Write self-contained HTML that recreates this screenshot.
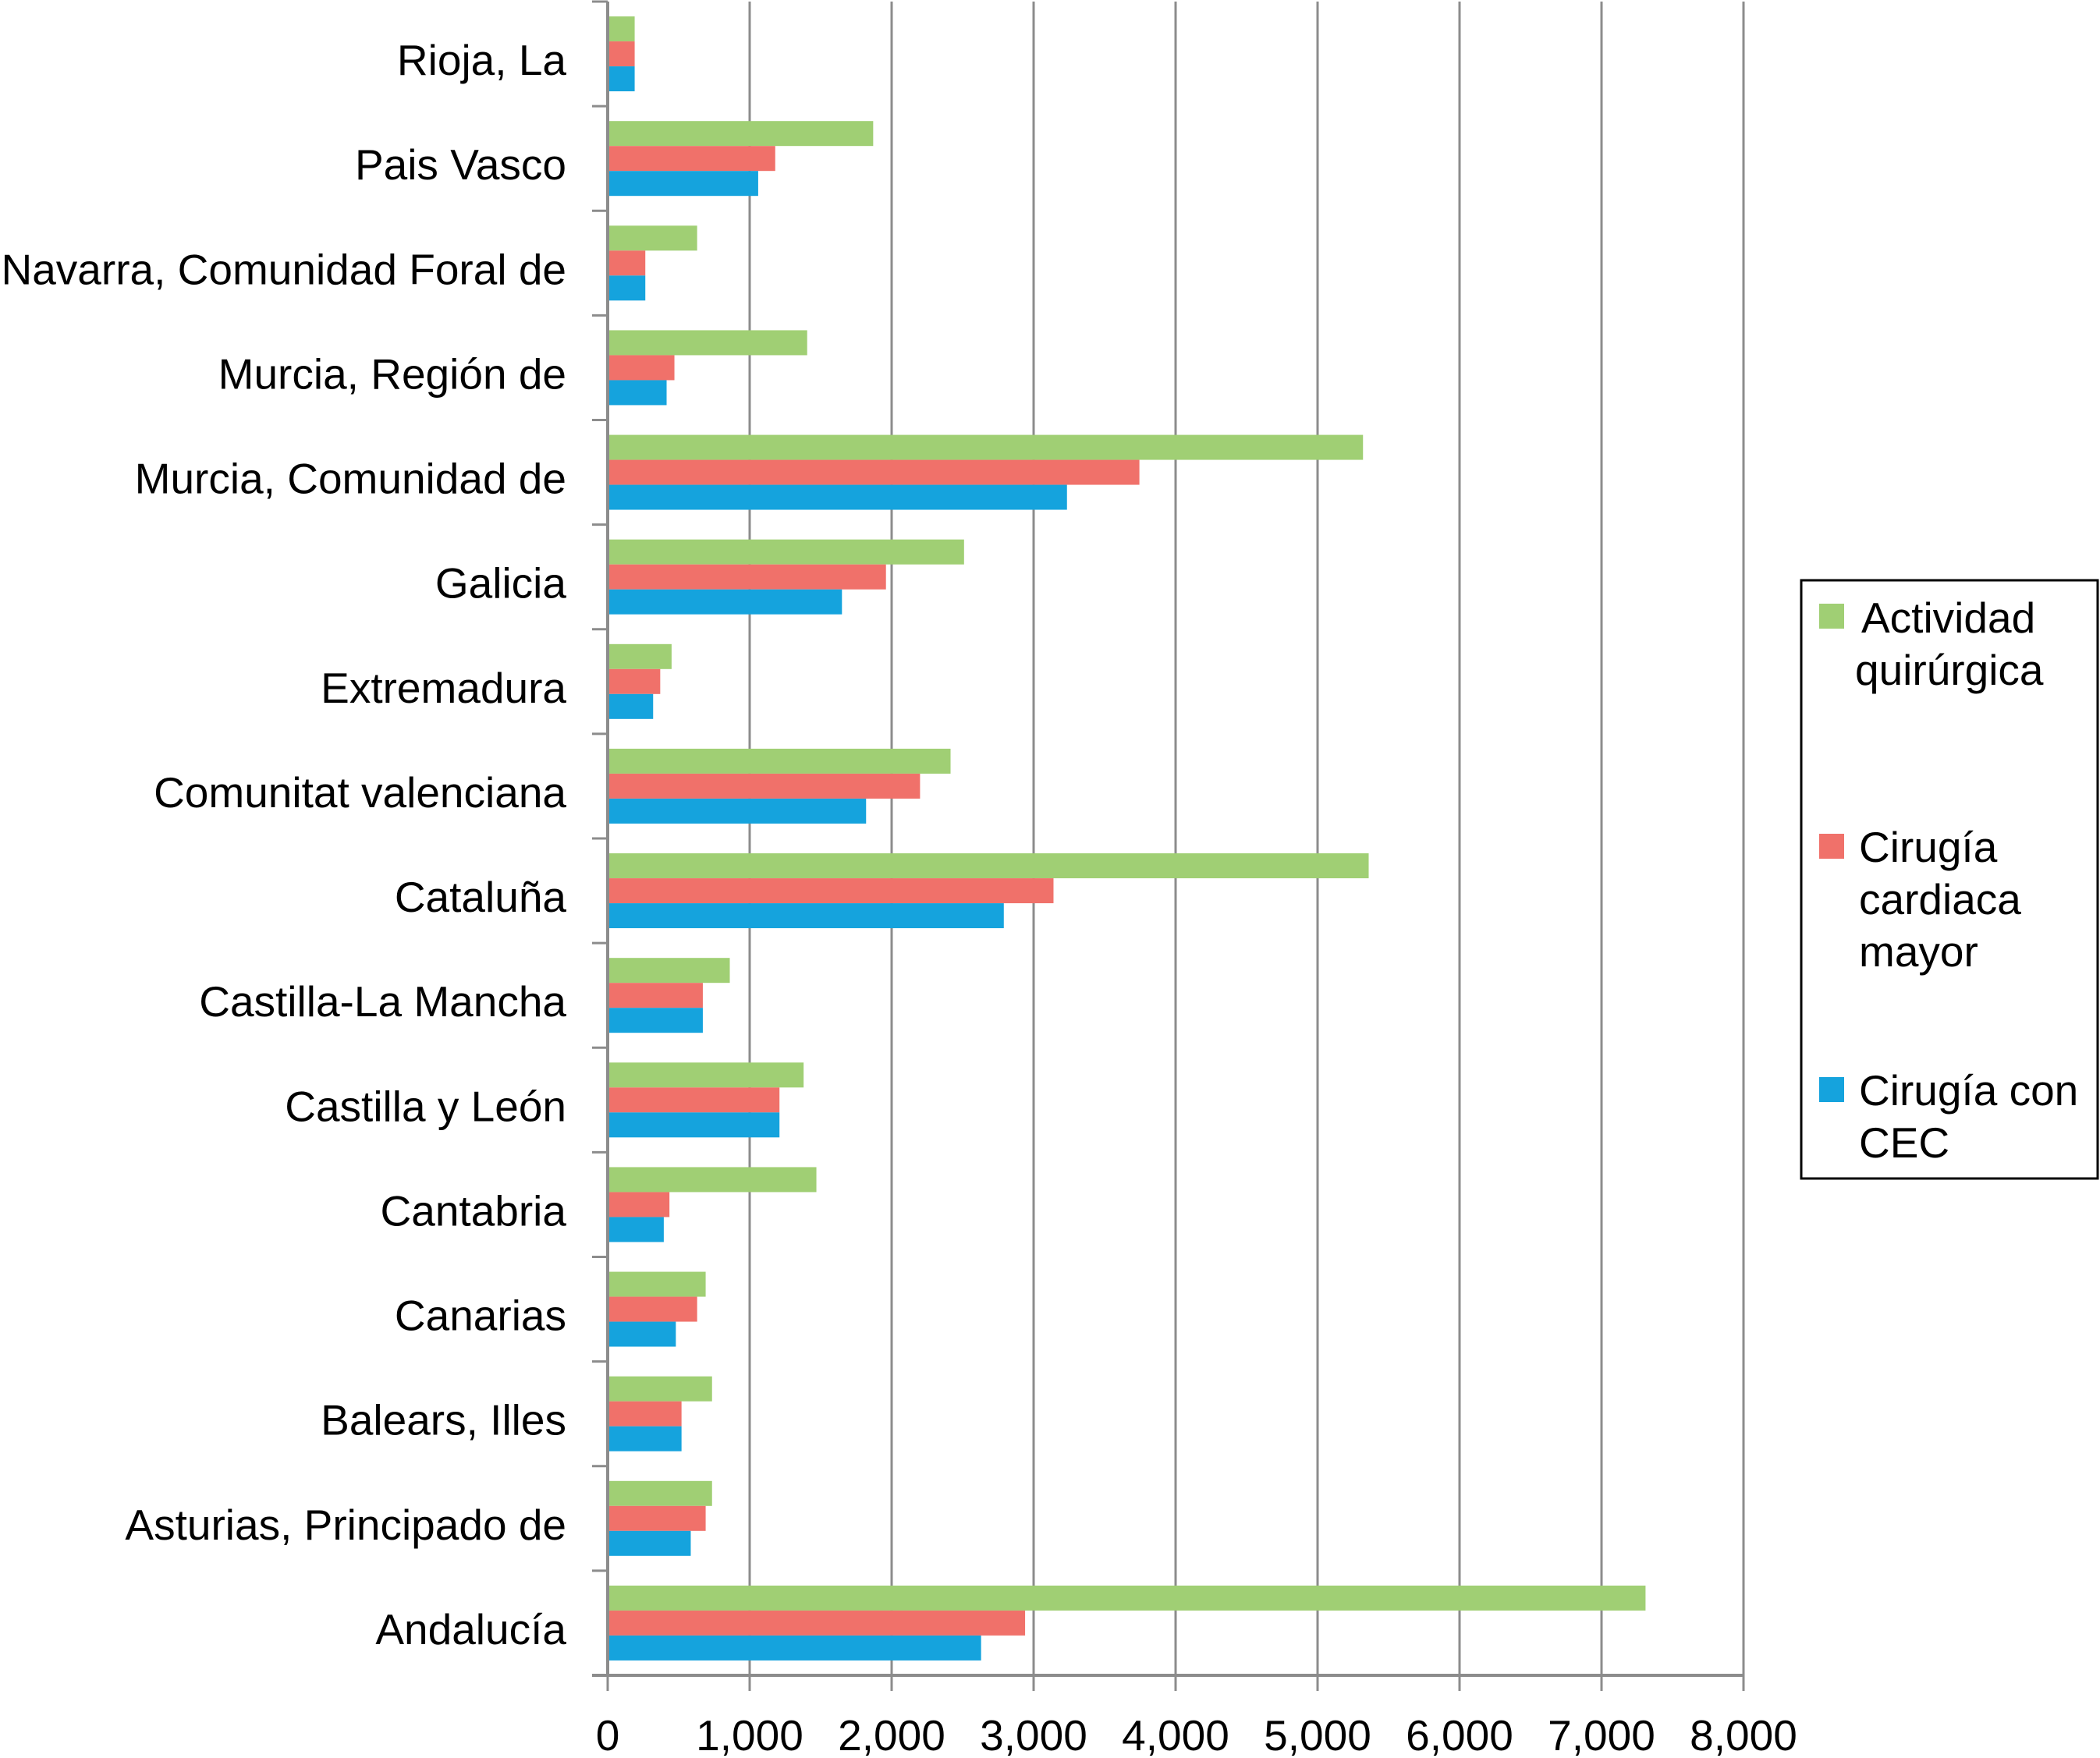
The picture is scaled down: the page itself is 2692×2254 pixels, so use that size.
<!DOCTYPE html>
<html><head><meta charset="utf-8"><style>
body{margin:0;background:#fff;}
svg{display:block;font-family:"Liberation Sans",Arial,sans-serif;}
</style></head><body>
<svg id="chart" width="2692" height="2254" viewBox="0 0 2692 2254" xmlns="http://www.w3.org/2000/svg">
<g id="grid"></g>
<g id="bars"></g>
<g id="axes"></g>
<g id="legend">
<rect x="2309" y="744" width="380" height="767" fill="#fff" stroke="#000" stroke-width="3"/>
<rect x="2332" y="774" width="32" height="32" fill="#a0cf74"/>
<text font-size="55" fill="#000"><tspan x="2386" y="811">Actividad</tspan><tspan x="2378" y="878">quirúrgica</tspan></text>
<rect x="2332" y="1069" width="32" height="32" fill="#f0716a"/>
<text font-size="55" fill="#000"><tspan x="2383" y="1105">Cirugía</tspan><tspan x="2383" y="1172">cardiaca</tspan><tspan x="2383" y="1239">mayor</tspan></text>
<rect x="2332" y="1381" width="32" height="32" fill="#15a3dd"/>
<text font-size="55" fill="#000"><tspan x="2383" y="1417">Cirugía con</tspan><tspan x="2383" y="1484">CEC</tspan></text>
</g>
</svg>
<script>
const categories = ["Rioja, La","Pais Vasco","Navarra, Comunidad Foral de","Murcia, Región de","Murcia, Comunidad de","Galicia","Extremadura","Comunitat valenciana","Cataluña","Castilla-La Mancha","Castilla y León","Cantabria","Canarias","Balears, Illes","Asturias, Principado de","Andalucía"];
const actividad = [190,1870,630,1405,5320,2510,450,2415,5360,860,1380,1470,690,735,735,7310];
const cardiaca = [190,1180,265,470,3745,1960,370,2200,3140,670,1210,435,630,520,690,2940];
const cec = [190,1060,265,415,3235,1650,320,1820,2790,670,1210,395,480,520,585,2630];
const xTicks = [0,1000,2000,3000,4000,5000,6000,7000,8000];
const xTickLabels = ["0","1,000","2,000","3,000","4,000","5,000","6,000","7,000","8,000"];

const NS="http://www.w3.org/2000/svg";
const X0=779, X1=2235, YT=2, YB=2148, XMAX=8000;
const xs=v=>X0+(v/XMAX)*(X1-X0);
const band=(YB-YT)/categories.length;
const yb=i=>YT+i*band;
function mk(tag,attrs,parent){const e=document.createElementNS(NS,tag);for(const k in attrs)e.setAttribute(k,attrs[k]);document.getElementById(parent).appendChild(e);return e;}

xTicks.forEach((t,i)=>{
  if(i>0){const g=mk('line',{x1:xs(t),x2:xs(t),y1:YT,y2:YB,stroke:'#8c8c8c','stroke-width':3},'grid');
  
  }
  const tk=mk('line',{x1:xs(t),x2:xs(t),y1:YB,y2:YB+20,stroke:'#8c8c8c','stroke-width':3},'axes');
  
  
  const tl=mk('text',{x:xs(t),y:2244,'font-size':55,'text-anchor':'middle',fill:'#000'},'axes');
  tl.textContent=xTickLabels[i];
  
  
});
const barH=32, off=(band-3*barH)/2;
const series=[[actividad,'#a0cf74','actividad'],[cardiaca,'#f0716a','cardiaca'],[cec,'#15a3dd','cec']];
categories.forEach((c,i)=>{
  series.forEach((s,j)=>{
    const r=mk('rect',{x:X0,y:yb(i)+off+j*barH,width:xs(s[0][i])-X0,height:barH,fill:s[1]},'bars');
    
    
  });
  const l=mk('text',{x:726,y:yb(i)+band/2+27,'font-size':55,'text-anchor':'end',fill:'#000'},'axes');
  l.textContent=c;
  
  
});
for(let i=0;i<=categories.length;i++){
  const t=mk('line',{x1:X0-20,x2:X0,y1:yb(i),y2:yb(i),stroke:'#8c8c8c','stroke-width':3},'axes');
  
  
}
const ya=mk('line',{x1:X0,x2:X0,y1:YT,y2:YB,stroke:'#8c8c8c','stroke-width':4},'axes');


const xa=mk('line',{x1:X0-20,x2:X1,y1:YB,y2:YB,stroke:'#8c8c8c','stroke-width':4},'axes');


</script>
</body></html>
